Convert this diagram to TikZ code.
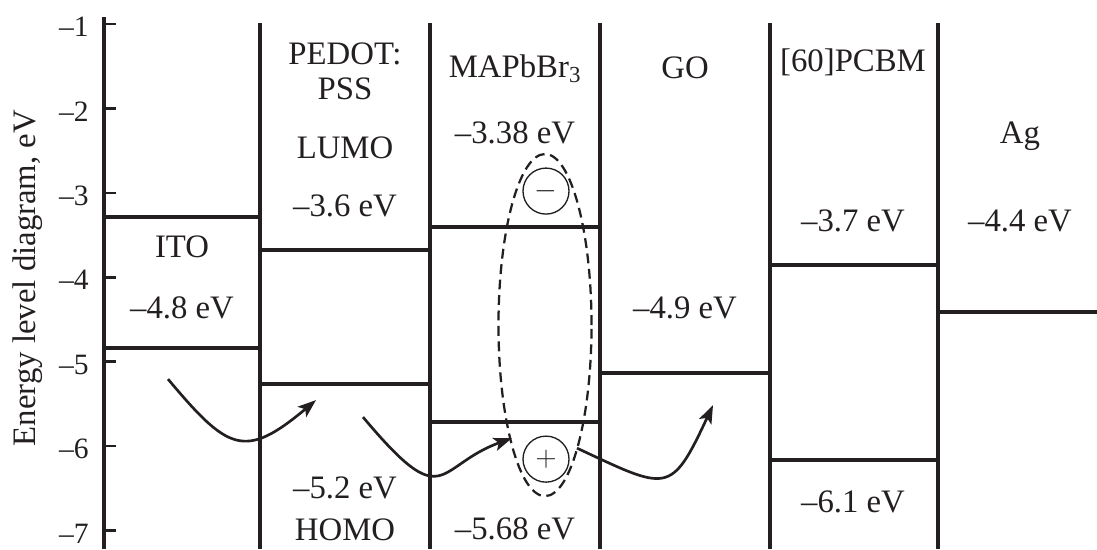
\documentclass[tikz,border=0pt]{standalone}
\usepackage{fontspec}
\setmainfont{Liberation Serif}
\usetikzlibrary{arrows.meta}
\definecolor{ink}{HTML}{231F20}
\tikzset{
  % Layer borders and energy levels
  axisline/.style={line width=2.8pt, ink},
  divider/.style={line width=2.8pt, ink},
  level/.style={line width=2.4pt, ink},
  axistick/.style={line width=1.9pt, ink},
  layer/.style={font=\fontsize{23.3}{28}\selectfont, text=ink, anchor=base, inner sep=0pt},
  ticklabel/.style={font=\fontsize{21}{25}\selectfont, text=ink, anchor=east,
    inner sep=0pt, yshift=-2pt},
  transfer/.style={line width=1.9pt, ink, -{Stealth[length=13pt,width=9.5pt,inset=3pt]}},
  exciton/.style={line width=1.6pt, ink, dash pattern=on 7pt off 4pt},
  charge/.style={circle, draw=ink, line width=0.95pt, minimum size=1.15cm,
    inner sep=0pt, font=\fontsize{20}{24}\selectfont, text=ink}
}

\begin{document}
\begin{tikzpicture}[x=0.025cm, y=2.11cm]

\useasboundingbox (0,-0.7156) rectangle (1097,-7.2204);

% Energy axis
\draw[axisline] (104,-0.917) -- (104,-7.2204);
\foreach \e in {1,...,7} {
  \draw[axistick] (104,-\e) -- (116,-\e);
  \node[ticklabel] (tick\e) at (89,-\e) {–\e};
}
\node[layer, rotate=90] (ylabel) at (35,-4.009) {Energy level diagram, eV};

% Layer borders
\foreach \x in {260,430,600,770,938} {
  \draw[divider] (\x,-0.988) -- (\x,-7.2204);
}

% Levels
\foreach \xa/\xb/\e in {104/260/-3.287, 104/260/-4.839,
                        260/430/-3.678, 260/430/-5.265,
                        430/600/-3.405, 430/600/-5.716,
                        600/770/-5.135,
                        770/938/-3.855, 770/938/-6.166,
                        938/1097/-4.412} {
  \draw[level] (\xa,\e) -- (\xb,\e);
}

% Layer names and values
\node[layer] (ito)       at (182,-3.761) {ITO};
\node[layer] (itoval)    at (182,-4.483) {–4.8 eV};
\node[layer] (pedot)     at (345,-1.474) {PEDOT:};
\node[layer] (pss)       at (345,-1.900) {PSS};
\node[layer] (lumo)      at (345,-2.588) {LUMO};
\node[layer] (pedotlumo) at (345,-3.275) {–3.6 eV};
\node[layer] (pedothomo) at (345,-6.616) {–5.2 eV};
\node[layer] (homo)      at (345,-7.114) {HOMO};
\node[layer] (mapb)      at (515,-1.628) {MAPbBr\textsubscript{3}};
\node[layer] (mapblumo)  at (515,-2.410) {–3.38 eV};
\node[layer] (mapbhomo)  at (515,-7.102) {–5.68 eV};
\node[layer] (go)        at (685,-1.640) {GO};
\node[layer] (goval)     at (685,-4.483) {–4.9 eV};
\node[layer] (pcbm)      at (853,-1.557) {[60]PCBM};
\node[layer] (pcbmlumo)  at (853,-3.453) {–3.7 eV};
\node[layer] (pcbmhomo)  at (853,-6.782) {–6.1 eV};
\node[layer] (ag)        at (1020,-2.410) {Ag};
\node[layer] (agval)     at (1020,-3.453) {–4.4 eV};

% Exciton
\draw[exciton] (545,-4.566) ellipse [x radius=1.1625cm, y radius=4.275cm];
\node[charge] (electron) at (546,-2.979) {$-$};
\node[charge] (hole)     at (546,-6.154) {$+$};

% Charge transfer
\coordinate (itoout)   at (168,-5.206);
\coordinate (pedotin)  at (316,-5.455);
\coordinate (pedotout) at (363,-5.656);
\coordinate (mapbin)   at (512,-5.905);
\coordinate (mapbout)  at (577,-6.024);
\coordinate (goin)     at (713,-5.514);
\draw[transfer] (itoout) to[out=-50, in=-140, looseness=1.6] (pedotin);
\draw[transfer] (pedotout) to[out=-50, in=-160, out looseness=2.2, in looseness=1.4] (mapbin);
\draw[transfer] (mapbout) to[out=-25, in=-115, looseness=1.8] (goin);

\end{tikzpicture}
\end{document}
